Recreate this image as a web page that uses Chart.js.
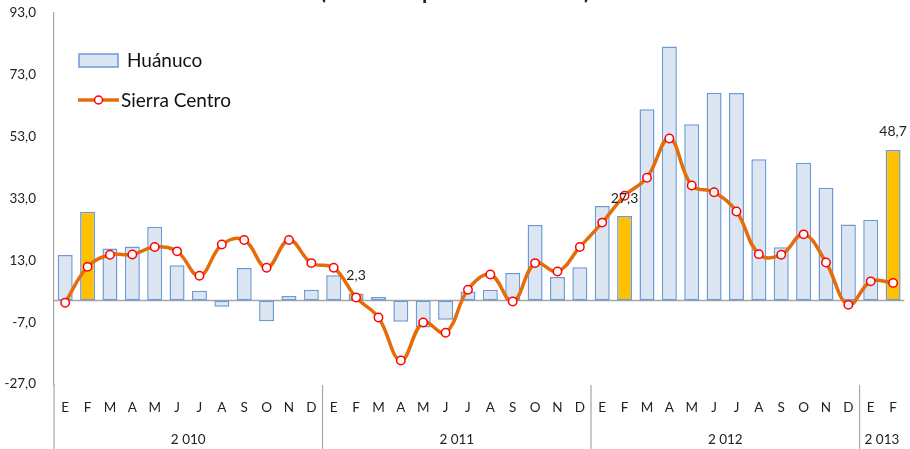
<!DOCTYPE html>
<html>
<head>
<meta charset="utf-8">
<script src="https://cdn.jsdelivr.net/npm/chart.js@4/dist/chart.umd.min.js"></script>
<style>
  html, body { margin: 0; padding: 0; background: #ffffff; }
  #wrap { width: 910px; height: 449px; position: relative; }
</style>
</head>
<body>
<div id="wrap"><canvas id="c"></canvas></div>
<script>
// ---- data ----
const titleText = "(Variación porcentual anual)";
const monthLabels = ["E","F","M","A","M","J","J","A","S","O","N","D",
                     "E","F","M","A","M","J","J","A","S","O","N","D",
                     "E","F","M","A","M","J","J","A","S","O","N","D",
                     "E","F"];
const yearLabels = ["2 010", "2 011", "2 012", "2 013"];
const yearSpans = [12, 12, 12, 2];
const huanuco = [14.7, 28.7, 16.8, 17.5, 23.9, 11.4, 3.2, -2.0, 10.5, -6.7, 1.5, 3.5,
                 8.2, 2.3, 1.1, -6.9, -8.7, -6.2, 2.9, 3.5, 8.9, 24.4, 7.6, 10.8,
                 30.6, 27.3, 61.9, 82.2, 57.0, 67.2, 67.1, 45.7, 17.2, 44.6, 36.5, 24.6,
                 26.1, 48.7];
const sierraCentro = [-0.7, 10.9, 14.8, 14.9, 17.3, 15.9, 8.0, 18.1, 19.6, 10.6, 19.6, 12.1,
                      10.6, 1.0, -5.5, -19.4, -7.1, -10.4, 3.5, 8.4, -0.3, 12.1, 9.4, 17.3,
                      25.2, 33.9, 39.7, 52.4, 37.2, 35.0, 28.8, 15.0, 14.8, 21.4, 12.3, -1.4,
                      6.2, 5.7];
const highlighted = [1, 13, 25, 37];
const labelled = [13, 25, 37];
const yTicks = [-27, -7, 13, 33, 53, 73, 93];
const seriesNames = ["Huánuco", "Sierra Centro"];

// ---- styles ----
const FONT = "Lato, 'Open Sans', sans-serif";
const barFill = "#dce6f2";
const barBorder = "#6a9ad8";
const gold = "#ffc000";
const lineColor = "#e46c0a";
const axisGray = "#a6a6a6";
const fmt = v => v.toFixed(1).replace(".", ",");

const decorations = {
  id: "decorations",
  beforeDatasetsDraw(chart) {
    const { ctx, chartArea, scales } = chart;
    const y0 = scales.y.getPixelForValue(0);
    ctx.save();
    ctx.strokeStyle = axisGray;
    ctx.lineWidth = 1.5;
    ctx.beginPath();
    ctx.moveTo(chartArea.left, y0);
    ctx.lineTo(chartArea.right, y0);
    ctx.stroke();
    ctx.restore();
  },
  afterDatasetsDraw(chart) {
    const { ctx, chartArea, scales } = chart;
    const x = scales.x;
    const h = chart.height;
    ctx.save();
    // left axis extension to bottom
    ctx.strokeStyle = axisGray;
    ctx.lineWidth = 1.2;
    ctx.beginPath();
    ctx.moveTo(chartArea.left, chartArea.bottom);
    ctx.lineTo(chartArea.left, h);
    ctx.stroke();
    // month labels
    ctx.fillStyle = "#222";
    ctx.font = "13.5px " + FONT;
    ctx.textAlign = "center";
    ctx.textBaseline = "middle";
    monthLabels.forEach((m, i) => {
      ctx.fillText(m, x.getPixelForValue(i), chartArea.bottom + 24);
    });
    // year labels & separators
    const step = x.getPixelForValue(1) - x.getPixelForValue(0);
    let start = 0;
    yearLabels.forEach((yl, k) => {
      const end = start + yearSpans[k];
      const left = x.getPixelForValue(start) - step / 2;
      const right = x.getPixelForValue(end - 1) + step / 2;
      ctx.fillText(yl, (left + right) / 2, chartArea.bottom + 56);
      if (k < yearLabels.length - 1) {
        ctx.beginPath();
        ctx.moveTo(right, chartArea.bottom + 1);
        ctx.lineTo(right, h);
        ctx.stroke();
      }
      start = end;
    });
    // data labels
    ctx.fillStyle = "#222";
    ctx.font = "14px " + FONT;
    ctx.textBaseline = "middle";
    labelled.forEach(i => {
      const px = x.getPixelForValue(i);
      const py = scales.y.getPixelForValue(huanuco[i]);
      ctx.fillText(fmt(huanuco[i]), px, py - 18);
    });
    // legend
    ctx.fillStyle = barFill;
    ctx.strokeStyle = barBorder;
    ctx.lineWidth = 1.5;
    ctx.fillRect(79, 54, 39, 13);
    ctx.strokeRect(79, 54, 39, 13);
    ctx.fillStyle = "#111";
    ctx.font = "19px " + FONT;
    ctx.textAlign = "left";
    ctx.fillText(seriesNames[0], 127, 61);
    ctx.strokeStyle = lineColor;
    ctx.lineWidth = 3.5;
    ctx.beginPath();
    ctx.moveTo(78, 100);
    ctx.lineTo(119, 100);
    ctx.stroke();
    ctx.beginPath();
    ctx.arc(98.5, 100, 4, 0, Math.PI * 2);
    ctx.fillStyle = "#ffffff";
    ctx.fill();
    ctx.strokeStyle = "#ff0000";
    ctx.lineWidth = 1.5;
    ctx.stroke();
    ctx.fillStyle = "#111";
    ctx.fillText(seriesNames[1], 121, 101);
    // clipped title
    ctx.font = "bold 16px " + FONT;
    const w = ctx.measureText(titleText).width;
    const size = 16 * 270 / w;
    ctx.font = "bold " + size.toFixed(1) + "px " + FONT;
    ctx.textAlign = "center";
    ctx.textBaseline = "alphabetic";
    ctx.fillStyle = "#222";
    ctx.fillText(titleText, 455, -1);
    ctx.restore();
  }
};

new Chart(document.getElementById("c"), {
  data: {
    labels: monthLabels,
    datasets: [
      {
        type: "line",
        label: seriesNames[1],
        data: sierraCentro,
        order: 0,
        borderColor: lineColor,
        borderWidth: 3.5,
        tension: 0.4,
        pointRadius: 4.2,
        pointBackgroundColor: "#ffffff",
        pointBorderColor: "#ff0000",
        pointBorderWidth: 1.5,
        fill: false
      },
      {
        type: "bar",
        label: seriesNames[0],
        data: huanuco,
        order: 1,
        backgroundColor: huanuco.map((v, i) => highlighted.includes(i) ? gold : barFill),
        borderColor: barBorder,
        borderWidth: 1.5,
        borderSkipped: false,
        barPercentage: 0.67,
        categoryPercentage: 1.0
      }
    ]
  },
  options: {
    responsive: true,
    maintainAspectRatio: false,
    animation: false,
    devicePixelRatio: 1,
    layout: { padding: { top: 13, right: 5, bottom: 65, left: 0 } },
    plugins: {
      legend: { display: false },
      tooltip: { enabled: false },
      title: { display: false }
    },
    scales: {
      x: {
        type: "category",
        display: false,
        offset: true
      },
      y: {
        min: -27,
        max: 93,
        afterBuildTicks: s => { s.ticks = yTicks.map(v => ({ value: v })); },
        afterFit: s => { s.width = 54; s.paddingTop = 0; s.paddingBottom = 0; },
        grid: { display: false },
        border: { display: true, color: axisGray, width: 1.2 },
        ticks: {
          color: "#222",
          font: { family: FONT, size: 13.5 },
          padding: 10,
          callback: v => fmt(v)
        }
      }
    }
  },
  plugins: [decorations]
});
</script>
</body>
</html>
